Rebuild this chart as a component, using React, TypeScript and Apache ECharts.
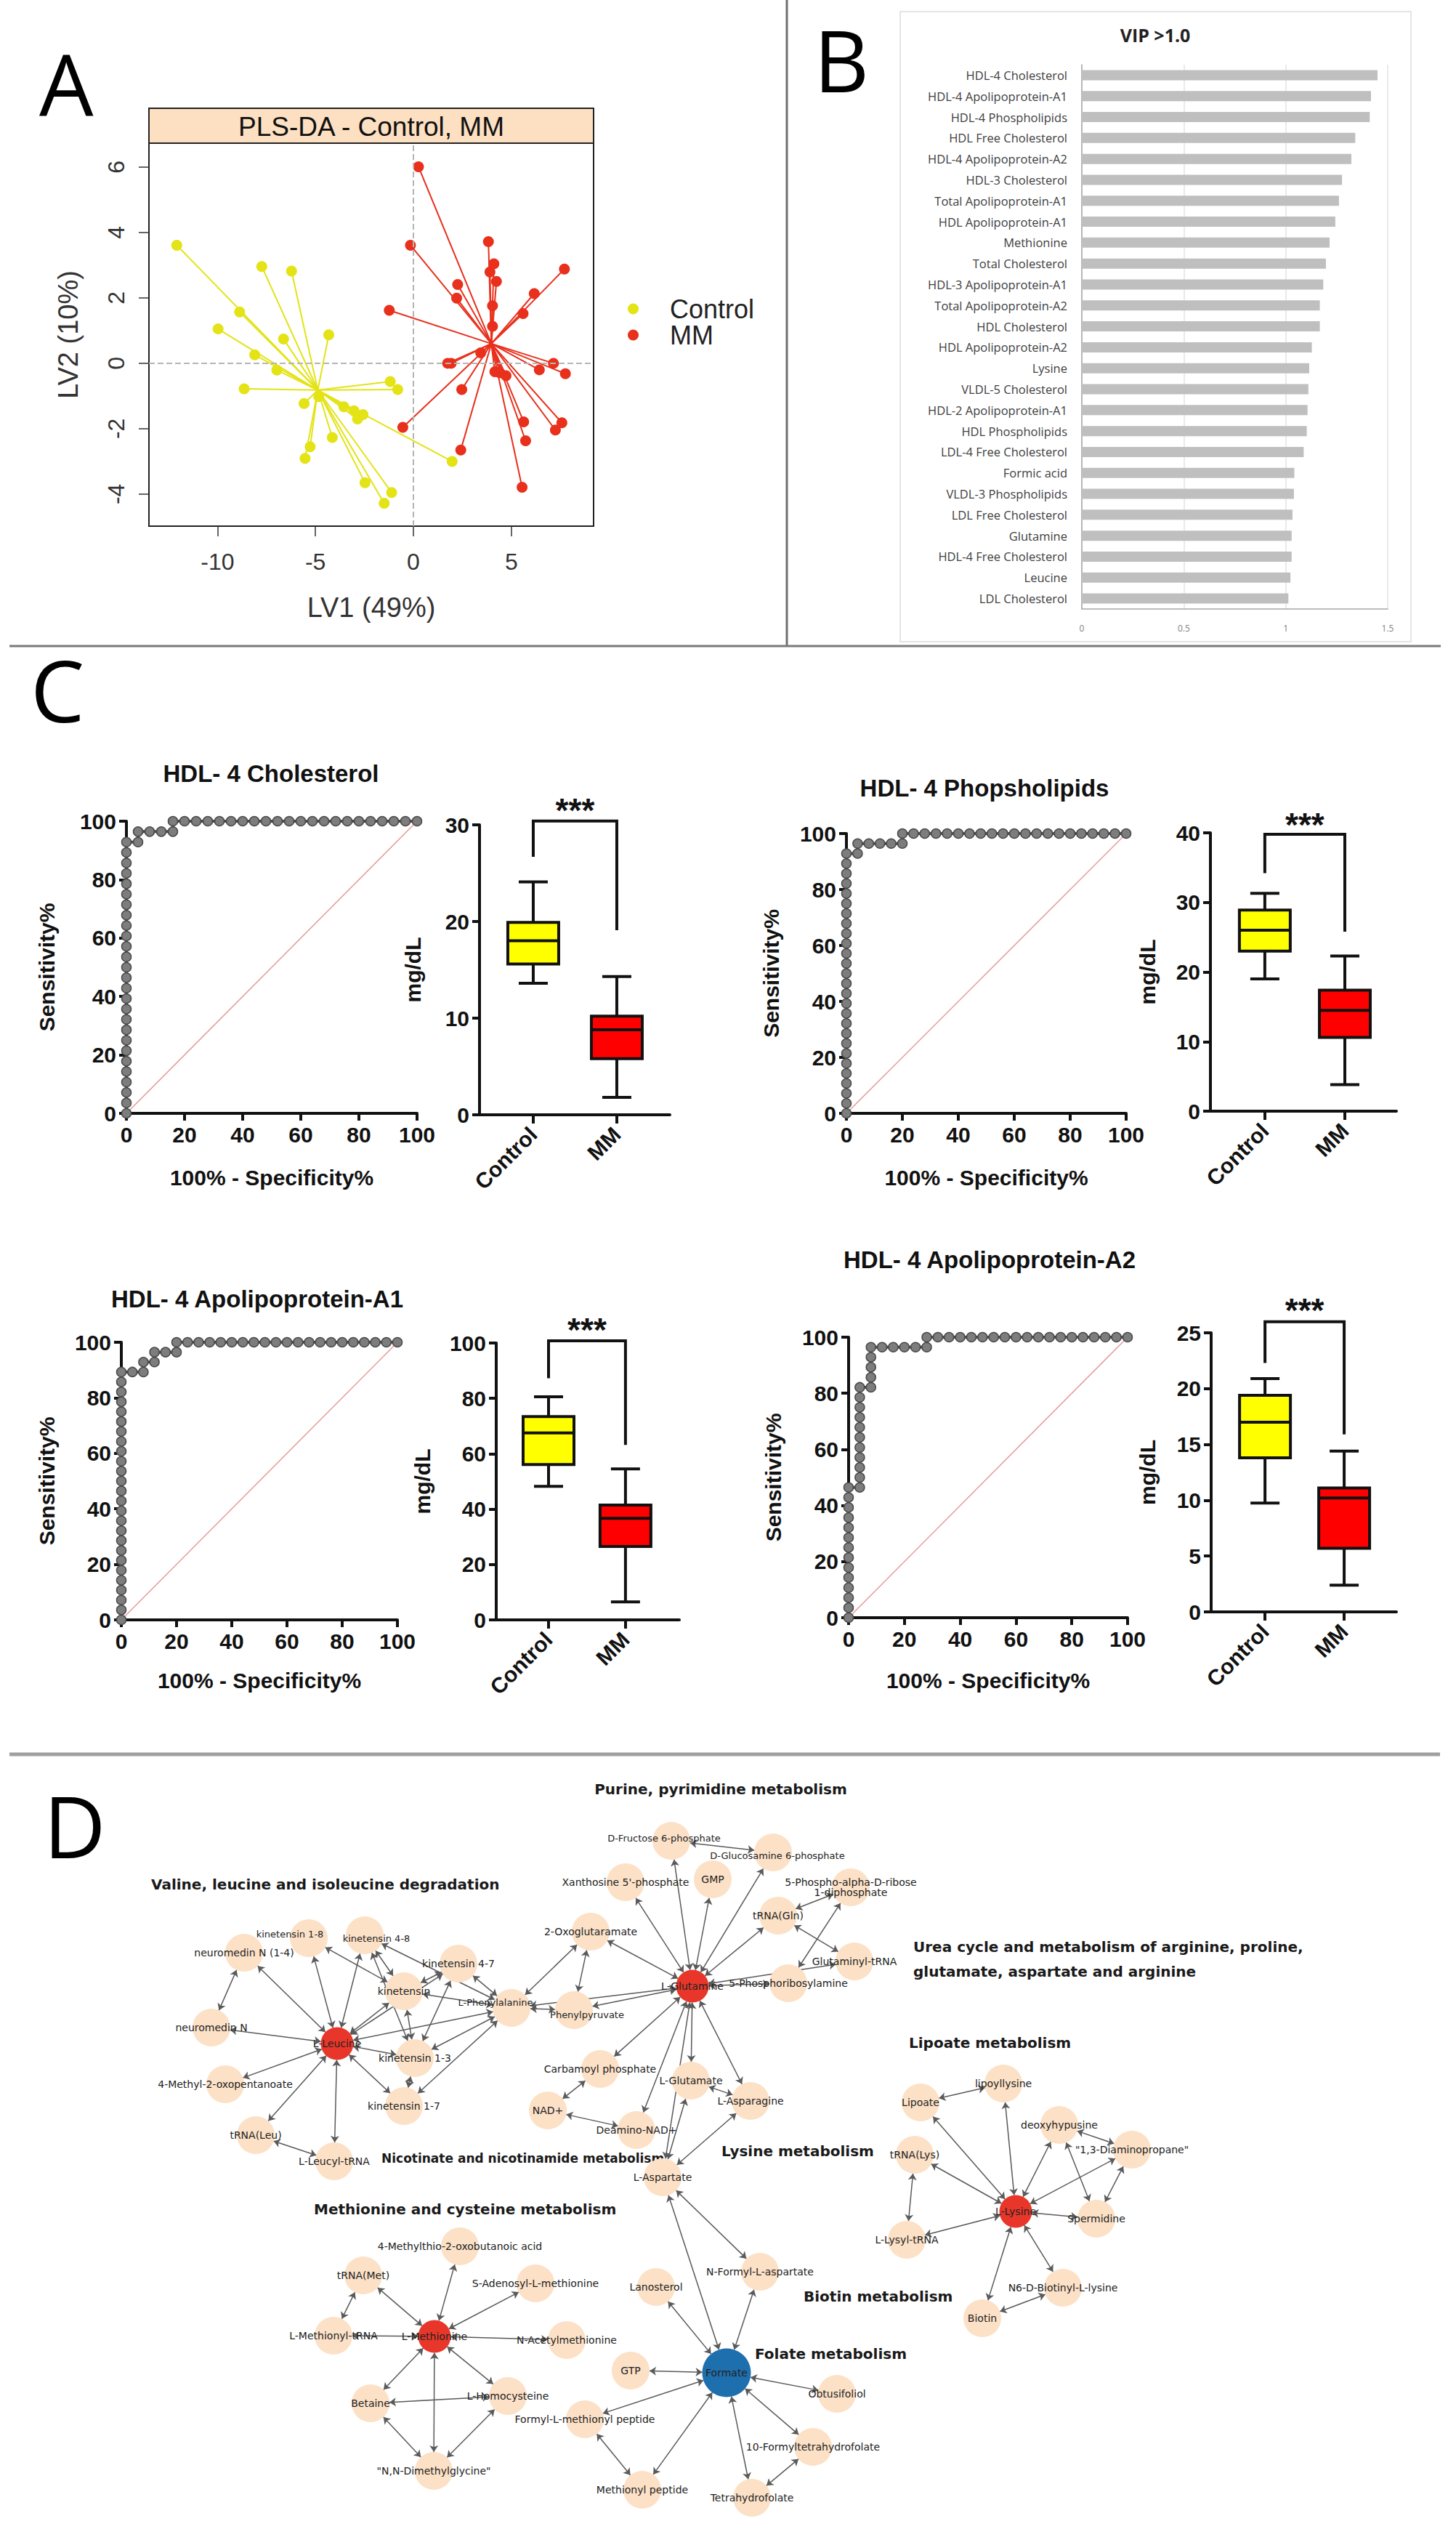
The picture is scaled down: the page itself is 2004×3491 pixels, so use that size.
import React, { useEffect, useRef } from "react";
import * as echarts from "echarts";

const W = 2004;
const H = 3491;
const SANS = "Liberation Sans";
const YELLOW = "#E3E316";
const RED = "#E8301C";

// ---------------- Panel A : PLS-DA scores ----------------
const A_GROUPS = ["Control", "MM"];
const A_CONTROL_LV1 = [-12.08, -7.74, -6.22, -8.87, -9.97, -6.63, -4.32, -8.1, -6.97, -8.64, -1.18, -0.8, -5.58, -4.83, -3.55, -3.03, -2.57, -2.85, -4.14, -5.27, -5.53, 1.98, -2.47, -1.11, -1.49];
const A_CONTROL_LV2 = [3.61, 2.96, 2.82, 1.57, 1.05, 0.74, 0.87, 0.26, -0.21, -0.78, -0.56, -0.8, -1.23, -1.02, -1.33, -1.45, -1.57, -1.7, -2.27, -2.55, -2.91, -3.0, -3.65, -3.95, -4.28];
const A_MM_LV1 = [0.26, -0.15, 3.83, 4.11, 3.91, 4.24, 2.26, 2.21, 7.71, 6.17, 5.6, 4.04, 4.04, -1.23, 3.44, 1.75, 1.93, 7.15, 6.43, 7.76, 4.16, 4.42, 4.73, 2.47, -0.54, 5.63, 7.58, 7.25, 5.73, 2.42, 5.55];
const A_MM_LV2 = [6.01, 3.61, 3.72, 3.04, 2.79, 2.5, 2.41, 1.99, 2.88, 2.13, 1.52, 1.76, 1.13, 1.62, 0.32, 0.0, 0.0, 0.0, -0.2, -0.32, -0.26, -0.29, -0.38, -0.8, -1.96, -1.79, -1.82, -2.04, -2.37, -2.65, -3.79];
const A_CENTROIDS = [[-4.88, -0.82], [3.98, 0.6]];
const A_X_TICKS = [-10, -5, 0, 5];
const A_Y_TICKS = [-4, -2, 0, 2, 4, 6];

// ---------------- Panel B : VIP scores ----------------
const VIP_NAMES = [
  "HDL-4 Cholesterol", "HDL-4 Apolipoprotein-A1", "HDL-4 Phospholipids", "HDL Free Cholesterol",
  "HDL-4 Apolipoprotein-A2", "HDL-3 Cholesterol", "Total Apolipoprotein-A1", "HDL Apolipoprotein-A1",
  "Methionine", "Total Cholesterol", "HDL-3 Apolipoprotein-A1", "Total Apolipoprotein-A2",
  "HDL Cholesterol", "HDL Apolipoprotein-A2", "Lysine", "VLDL-5 Cholesterol",
  "HDL-2 Apolipoprotein-A1", "HDL Phospholipids", "LDL-4 Free Cholesterol", "Formic acid",
  "VLDL-3 Phospholipids", "LDL Free Cholesterol", "Glutamine", "HDL-4 Free Cholesterol",
  "Leucine", "LDL Cholesterol",
];
const VIP_VALUES = [1.45, 1.418, 1.412, 1.341, 1.322, 1.276, 1.261, 1.243, 1.215, 1.197, 1.184, 1.167, 1.167, 1.128, 1.115, 1.111, 1.107, 1.103, 1.088, 1.042, 1.04, 1.033, 1.029, 1.029, 1.023, 1.013];

// ---------------- Panel C : ROC + box plots ----------------
const C_GROUPS = ["Control", "MM"];
const C_BOX_COLORS = ["#FFFF00", "#FF0000"];
const C_TITLES = ["HDL- 4 Cholesterol", "HDL- 4 Phopsholipids", "HDL- 4 Apolipoprotein-A1", "HDL- 4 Apolipoprotein-A2"];
const ROC_HDL4_CHOL = [
  [0, 0], [0, 3.57], [0, 7.14], [0, 10.71], [0, 14.29], [0, 17.86], [0, 21.43], [0, 25], [0, 28.57], [0, 32.14], [0, 35.71], [0, 39.29], [0, 42.86], [0, 46.43], [0, 50], [0, 53.57], [0, 57.14], [0, 60.71], [0, 64.29], [0, 67.86], [0, 71.43], [0, 75], [0, 78.57], [0, 82.14], [0, 85.71], [0, 89.29], [0, 92.86],
  [4, 92.86], [4, 96.43], [8, 96.43], [12, 96.43], [16, 96.43], [16, 100], [20, 100], [24, 100], [28, 100], [32, 100], [36, 100], [40, 100], [44, 100], [48, 100], [52, 100], [56, 100], [60, 100], [64, 100], [68, 100], [72, 100], [76, 100], [80, 100], [84, 100], [88, 100], [92, 100], [96, 100], [100, 100],
];
const ROC_HDL4_PL = [
  [0, 0], [0, 3.57], [0, 7.14], [0, 10.71], [0, 14.29], [0, 17.86], [0, 21.43], [0, 25], [0, 28.57], [0, 32.14], [0, 35.71], [0, 39.29], [0, 42.86], [0, 46.43], [0, 50], [0, 53.57], [0, 57.14], [0, 60.71], [0, 64.29], [0, 67.86], [0, 71.43], [0, 75], [0, 78.57], [0, 82.14], [0, 85.71], [0, 89.29], [0, 92.86],
  [4, 92.86], [4, 96.43], [8, 96.43], [12, 96.43], [16, 96.43], [20, 96.43], [20, 100], [24, 100], [28, 100], [32, 100], [36, 100], [40, 100], [44, 100], [48, 100], [52, 100], [56, 100], [60, 100], [64, 100], [68, 100], [72, 100], [76, 100], [80, 100], [84, 100], [88, 100], [92, 100], [96, 100], [100, 100],
];
const ROC_HDL4_A1 = [
  [0, 0], [0, 3.57], [0, 7.14], [0, 10.71], [0, 14.29], [0, 17.86], [0, 21.43], [0, 25], [0, 28.57], [0, 32.14], [0, 35.71], [0, 39.29], [0, 42.86], [0, 46.43], [0, 50], [0, 53.57], [0, 57.14], [0, 60.71], [0, 64.29], [0, 67.86], [0, 71.43], [0, 75], [0, 78.57], [0, 82.14], [0, 85.71], [0, 89.29],
  [4, 89.29], [8, 89.29], [8, 92.86], [12, 92.86], [12, 96.43], [16, 96.43], [20, 96.43], [20, 100], [24, 100], [28, 100], [32, 100], [36, 100], [40, 100], [44, 100], [48, 100], [52, 100], [56, 100], [60, 100], [64, 100], [68, 100], [72, 100], [76, 100], [80, 100], [84, 100], [88, 100], [92, 100], [96, 100], [100, 100],
];
const ROC_HDL4_A2 = [
  [0, 0], [0, 3.57], [0, 7.14], [0, 10.71], [0, 14.29], [0, 17.86], [0, 21.43], [0, 25], [0, 28.57], [0, 32.14], [0, 35.71], [0, 39.29], [0, 42.86], [0, 46.43],
  [4, 46.43], [4, 50], [4, 53.57], [4, 57.14], [4, 60.71], [4, 64.29], [4, 67.86], [4, 71.43], [4, 75], [4, 78.57], [4, 82.14],
  [8, 82.14], [8, 85.71], [8, 89.29], [8, 92.86], [8, 96.43], [12, 96.43], [16, 96.43], [20, 96.43], [24, 96.43], [28, 96.43],
  [28, 100], [32, 100], [36, 100], [40, 100], [44, 100], [48, 100], [52, 100], [56, 100], [60, 100], [64, 100], [68, 100], [72, 100], [76, 100], [80, 100], [84, 100], [88, 100], [92, 100], [96, 100], [100, 100],
];
const C_ROC = [ROC_HDL4_CHOL, ROC_HDL4_PL, ROC_HDL4_A1, ROC_HDL4_A2];
// [min, Q1, median, Q3, max] for Control then MM
const C_BOX_STATS = [
  [[13.6, 15.6, 18.0, 19.9, 24.1], [1.8, 5.8, 8.8, 10.2, 14.3]],
  [[19.0, 23.0, 26.0, 28.9, 31.3], [3.8, 10.6, 14.5, 17.4, 22.3]],
  [[48.2, 56.1, 67.5, 73.4, 80.6], [6.5, 26.5, 36.7, 41.5, 54.5]],
  [[9.75, 13.8, 17.0, 19.4, 20.9], [2.4, 5.7, 10.2, 11.1, 14.4]],
];
const C_BOX_YMAX = [30, 40, 100, 25];
const C_BOX_YSTEP = [10, 10, 20, 5];
// [left leg end, bracket top, right leg end, star position]
const C_BRACKETS = [
  [26.7, 30.4, 19.1, 31.5],
  [34.2, 39.8, 25.8, 41.1],
  [87.3, 100.8, 63.2, 104.7],
  [22.3, 26.0, 15.9, 27.0],
];
const C_SIG = ["***", "***", "***", "***"];
const ROC_TICKS_MAX = 100;

// ---------------- Panel D : network ----------------
const D_NODE_NAMES = [
  "neuromedin N (1-4)", "kinetensin 1-8", "kinetensin 4-8", "kinetensin 4-7", "kinetensin", "L-Phenylalanine", "neuromedin N", "L-Leucine", "kinetensin 1-3", "4-Methyl-2-oxopentanoate", "kinetensin 1-7", "tRNA(Leu)", "L-Leucyl-tRNA",
  "D-Fructose 6-phosphate", "D-Glucosamine 6-phosphate", "Xanthosine 5'-phosphate", "GMP", "5-Phospho-alpha-D-ribose 1-diphosphate", "tRNA(Gln)", "2-Oxoglutaramate", "Glutaminyl-tRNA", "L-Glutamine", "5-Phosphoribosylamine", "Phenylpyruvate", "Carbamoyl phosphate", "L-Glutamate", "L-Asparagine", "NAD+", "Deamino-NAD+", "L-Aspartate",
  "Lanosterol", "N-Formyl-L-aspartate", "Formate", "GTP", "Obtusifoliol", "Formyl-L-methionyl peptide", "10-Formyltetrahydrofolate", "Methionyl peptide", "Tetrahydrofolate",
  "4-Methylthio-2-oxobutanoic acid", "tRNA(Met)", "S-Adenosyl-L-methionine", "L-Methionine", "L-Methionyl-tRNA", "N-Acetylmethionine", "Betaine", "L-Homocysteine", "\"N,N-Dimethylglycine\"",
  "Lipoate", "lipoyllysine", "deoxyhypusine", "\"1,3-Diaminopropane\"", "tRNA(Lys)", "L-Lysine", "Spermidine", "L-Lysyl-tRNA", "N6-D-Biotinyl-L-lysine", "Biotin",
];
const D_NODE_LABELS = D_NODE_NAMES.map((n) => (n === "5-Phospho-alpha-D-ribose 1-diphosphate" ? "5-Phospho-alpha-D-ribose\n1-diphosphate" : n));
const D_NODE_X = [
  336, 425, 502, 631, 556, 704, 291, 464, 571, 310, 556, 352, 460,
  924, 1064, 861, 981, 1171, 1071, 813, 1176, 953, 1085, 790, 826, 951, 1033, 754, 876, 912,
  903, 1046, 1000, 868, 1152, 805, 1119, 884, 1035,
  633, 500, 737, 598, 459, 780, 510, 699, 597,
  1267, 1381, 1458, 1558, 1259, 1398, 1509, 1248, 1463, 1352,
];
const D_NODE_Y = [
  2687, 2667, 2663, 2702, 2740, 2763, 2790, 2812, 2832, 2868, 2898, 2938, 2974,
  2533, 2549, 2590, 2586, 2597, 2636, 2658, 2699, 2733, 2729, 2766, 2847, 2863, 2891, 2904, 2931, 2996,
  3147, 3126, 3265, 3262, 3294, 3329, 3367, 3426, 3437,
  3091, 3131, 3142, 3215, 3214, 3220, 3307, 3297, 3400,
  2893, 2867, 2924, 2958, 2965, 3043, 3053, 3082, 3148, 3190,
];
// 0 = metabolite, 1 = altered (red), 2 = formate (blue)
const D_NODE_KIND = D_NODE_NAMES.map((n) =>
  n === "Formate" ? 2 : ["L-Leucine", "L-Glutamine", "L-Methionine", "L-Lysine"].indexOf(n) >= 0 ? 1 : 0
);
const D_EDGES = [
  ["L-Leucine", "neuromedin N (1-4)"], ["L-Leucine", "kinetensin 1-8"], ["L-Leucine", "kinetensin 4-8"], ["L-Leucine", "kinetensin"], ["L-Leucine", "kinetensin 4-7"], ["L-Leucine", "L-Phenylalanine"], ["L-Leucine", "neuromedin N"], ["L-Leucine", "kinetensin 1-3"], ["L-Leucine", "4-Methyl-2-oxopentanoate"], ["L-Leucine", "tRNA(Leu)"], ["L-Leucine", "L-Leucyl-tRNA"], ["L-Leucine", "kinetensin 1-7"],
  ["neuromedin N (1-4)", "neuromedin N"], ["kinetensin 1-8", "kinetensin"], ["kinetensin 4-8", "kinetensin"], ["kinetensin 4-8", "kinetensin 1-3"], ["kinetensin", "kinetensin 4-7"], ["kinetensin", "L-Phenylalanine"], ["kinetensin", "kinetensin 1-3"], ["kinetensin 4-7", "L-Phenylalanine"], ["kinetensin 4-7", "kinetensin 1-3"], ["kinetensin 1-3", "L-Phenylalanine"], ["kinetensin 1-7", "L-Phenylalanine"], ["kinetensin 1-7", "kinetensin 1-3"], ["tRNA(Leu)", "L-Leucyl-tRNA"], ["L-Phenylalanine", "2-Oxoglutaramate"], ["L-Phenylalanine", "Phenylpyruvate"], ["kinetensin 4-8", "L-Phenylalanine"],
  ["L-Glutamine", "D-Fructose 6-phosphate"], ["L-Glutamine", "Xanthosine 5'-phosphate"], ["L-Glutamine", "GMP"], ["L-Glutamine", "D-Glucosamine 6-phosphate"], ["L-Glutamine", "tRNA(Gln)"], ["L-Glutamine", "5-Phosphoribosylamine"], ["L-Glutamine", "Glutaminyl-tRNA"], ["L-Glutamine", "2-Oxoglutaramate"], ["L-Glutamine", "Phenylpyruvate"], ["L-Glutamine", "L-Phenylalanine"], ["L-Glutamine", "Carbamoyl phosphate"], ["L-Glutamine", "L-Glutamate"], ["L-Glutamine", "L-Asparagine"], ["L-Glutamine", "Deamino-NAD+"], ["L-Glutamine", "L-Aspartate"],
  ["D-Fructose 6-phosphate", "D-Glucosamine 6-phosphate"], ["5-Phospho-alpha-D-ribose 1-diphosphate", "tRNA(Gln)"], ["5-Phospho-alpha-D-ribose 1-diphosphate", "5-Phosphoribosylamine"], ["tRNA(Gln)", "Glutaminyl-tRNA"], ["2-Oxoglutaramate", "Phenylpyruvate"], ["Carbamoyl phosphate", "NAD+"], ["NAD+", "Deamino-NAD+"], ["L-Glutamate", "L-Asparagine"], ["L-Glutamate", "L-Aspartate"], ["L-Asparagine", "L-Aspartate"],
  ["Formate", "L-Aspartate"], ["Formate", "N-Formyl-L-aspartate"], ["Formate", "Lanosterol"], ["Formate", "GTP"], ["Formate", "Obtusifoliol"], ["Formate", "10-Formyltetrahydrofolate"], ["Formate", "Tetrahydrofolate"], ["Formate", "Methionyl peptide"], ["Formate", "Formyl-L-methionyl peptide"], ["L-Aspartate", "N-Formyl-L-aspartate"], ["Formyl-L-methionyl peptide", "Methionyl peptide"], ["Tetrahydrofolate", "10-Formyltetrahydrofolate"],
  ["L-Methionine", "4-Methylthio-2-oxobutanoic acid"], ["L-Methionine", "tRNA(Met)"], ["L-Methionine", "S-Adenosyl-L-methionine"], ["L-Methionine", "L-Methionyl-tRNA"], ["L-Methionine", "N-Acetylmethionine"], ["L-Methionine", "Betaine"], ["L-Methionine", "L-Homocysteine"], ["L-Methionine", "\"N,N-Dimethylglycine\""], ["tRNA(Met)", "L-Methionyl-tRNA"], ["Betaine", "L-Homocysteine"], ["Betaine", "\"N,N-Dimethylglycine\""], ["L-Homocysteine", "\"N,N-Dimethylglycine\""],
  ["L-Lysine", "Lipoate"], ["L-Lysine", "lipoyllysine"], ["L-Lysine", "deoxyhypusine"], ["L-Lysine", "\"1,3-Diaminopropane\""], ["L-Lysine", "tRNA(Lys)"], ["L-Lysine", "Spermidine"], ["L-Lysine", "L-Lysyl-tRNA"], ["L-Lysine", "N6-D-Biotinyl-L-lysine"], ["L-Lysine", "Biotin"], ["Lipoate", "lipoyllysine"], ["deoxyhypusine", "\"1,3-Diaminopropane\""], ["\"1,3-Diaminopropane\"", "Spermidine"], ["tRNA(Lys)", "L-Lysyl-tRNA"], ["Biotin", "N6-D-Biotinyl-L-lysine"], ["deoxyhypusine", "Spermidine"],
];
const D_TITLES = [
  "Purine, pyrimidine metabolism",
  "Valine, leucine and isoleucine degradation",
  "Urea cycle and metabolism of arginine, proline,",
  "glutamate, aspartate and arginine",
  "Lipoate metabolism",
  "Nicotinate and nicotinamide metabolism",
  "Lysine metabolism",
  "Methionine and cysteine metabolism",
  "Biotin metabolism",
  "Folate metabolism",
];

// ---------------- Layout (positions only) ----------------
const C_LAYOUT = [
  { roc: { left: 174, top: 1130, width: 400, height: 402 }, box: { left: 660, top: 1135, width: 262, height: 399 }, boxX: [-0.643, 1.635], title: [373, 1064], rocYGap: 95, rocXGap: 73, boxYGap: 77 },
  { roc: { left: 1165, top: 1147, width: 385, height: 385 }, box: { left: 1666, top: 1146, width: 256, height: 383 }, boxX: [-0.68, 1.645], title: [1355, 1084], rocYGap: 89, rocXGap: 73, boxYGap: 72 },
  { roc: { left: 167, top: 1847, width: 380, height: 382 }, box: { left: 683, top: 1848, width: 252, height: 381 }, boxX: [-0.68, 1.7], title: [354, 1787], rocYGap: 88, rocXGap: 68, boxYGap: 87 },
  { roc: { left: 1168, top: 1840, width: 384, height: 386 }, box: { left: 1667, top: 1834, width: 255, height: 384 }, boxX: [-0.68, 1.66], title: [1362, 1733], rocYGap: 89, rocXGap: 71, boxYGap: 73 },
];
const D_TITLE_POS = [
  [992, 2462, "center", 20], [208, 2593, "left", 20], [1257, 2679, "left", 20], [1257, 2713, "left", 20],
  [1251, 2811, "left", 20], [525, 2970, "left", 17], [993, 2960, "left", 20], [432, 3040, "left", 20],
  [1106, 3160, "left", 20], [1039, 3239, "left", 20],
];
// small label nudges where neighbouring node labels would collide
const D_LABEL_OFFSETS: any = {
  "kinetensin 1-8": [-26, -6],
  "kinetensin 4-8": [16, 4],
  "L-Phenylalanine": [-22, -8],
  "Phenylpyruvate": [18, 6],
  "D-Fructose 6-phosphate": [-10, -4],
  "D-Glucosamine 6-phosphate": [6, 4],
};

function txt(text: string, x: number, y: number, font: string, align = "left", fill = "#111") {
  return { type: "text", x, y, silent: true, style: { text, font, fill, textAlign: align, textVerticalAlign: "middle" } };
}

function buildOption() {
  const grid: any[] = [];
  const xAxis: any[] = [];
  const yAxis: any[] = [];
  const series: any[] = [];
  const graphic: any[] = [];

  // ===== Panel A =====
  grid.push({ left: 205, top: 197, width: 612, height: 527, show: true, borderColor: "#222", borderWidth: 2, backgroundColor: "transparent" });
  const aTick = { show: true, length: 14, lineStyle: { color: "#333", width: 1.5 } };
  xAxis.push({
    gridIndex: 0, type: "value", min: -13.5, max: 9.2,
    axisLine: { show: false, onZero: false },
    axisTick: { ...aTick, customValues: A_X_TICKS },
    axisLabel: { customValues: A_X_TICKS, fontSize: 32, color: "#333", margin: 33, fontFamily: SANS },
    splitLine: { show: false },
    name: "LV1 (49%)", nameLocation: "middle", nameGap: 93,
    nameTextStyle: { fontSize: 38, color: "#333", fontFamily: SANS },
  });
  yAxis.push({
    gridIndex: 0, type: "value", min: -4.98, max: 6.73,
    axisLine: { show: false, onZero: false },
    axisTick: { ...aTick, customValues: A_Y_TICKS },
    axisLabel: { customValues: A_Y_TICKS, rotate: 90, fontSize: 32, color: "#333", margin: 29, fontFamily: SANS },
    splitLine: { show: false },
    name: "LV2 (10%)", nameLocation: "middle", nameGap: 92,
    nameTextStyle: { fontSize: 38, color: "#333", fontFamily: SANS },
  });
  const aSets = [
    { xs: A_CONTROL_LV1, ys: A_CONTROL_LV2, color: YELLOW },
    { xs: A_MM_LV1, ys: A_MM_LV2, color: RED },
  ];
  aSets.forEach((s, gi) => {
    series.push({
      type: "lines", name: A_GROUPS[gi] + " links", coordinateSystem: "cartesian2d", xAxisIndex: 0, yAxisIndex: 0,
      silent: true, z: 2,
      lineStyle: { color: s.color, width: 2, opacity: 1 },
      data: s.xs.map((x, i) => ({ coords: [A_CENTROIDS[gi], [x, s.ys[i]]] })),
    });
  });
  aSets.forEach((s, gi) => {
    series.push({
      type: "scatter", name: A_GROUPS[gi], xAxisIndex: 0, yAxisIndex: 0, z: 3,
      symbolSize: 15, itemStyle: { color: s.color, opacity: 1 },
      data: s.xs.map((x, i) => [x, s.ys[i]]),
      markLine: gi === 0 ? {
        silent: true, symbol: ["none", "none"], label: { show: false },
        lineStyle: { type: "dashed", color: "#b5b5b5", width: 2 },
        data: [{ xAxis: 0 }, { yAxis: 0 }],
      } : undefined,
    });
  });
  graphic.push({ type: "rect", shape: { x: 205, y: 149, width: 612, height: 48 }, style: { fill: "#FDE0C2", stroke: "#222", lineWidth: 2 }, silent: true });
  graphic.push(txt("PLS-DA - Control, MM", 511, 174, `37px ${SANS}`, "center", "#111"));

  // ===== Panel B =====
  grid.push({ left: 1489, top: 89, width: 421, height: 749 });
  xAxis.push({
    gridIndex: 1, type: "value", min: 0, max: 1.5, interval: 0.5,
    axisLine: { show: true, onZero: false, lineStyle: { color: "#a6a6a6", width: 1.5 } },
    axisTick: { show: false },
    axisLabel: { fontSize: 12, color: "#808080", margin: 20, fontFamily: "Open Sans" },
    splitLine: { show: true, lineStyle: { color: "#e3e3e3", width: 1.5 } },
  });
  yAxis.push({
    gridIndex: 1, type: "category", inverse: true, data: VIP_NAMES,
    axisLine: { show: true, onZero: false, lineStyle: { color: "#a6a6a6", width: 1.5 } },
    axisTick: { show: false },
    axisLabel: { fontSize: 16.5, color: "#404040", margin: 20, fontFamily: "Open Sans" },
  });
  series.push({
    type: "bar", name: "VIP", xAxisIndex: 1, yAxisIndex: 1, data: VIP_VALUES,
    barWidth: 14, itemStyle: { color: "#BFBFBF" }, silent: true,
  });
  graphic.push({ type: "rect", shape: { x: 1239, y: 16, width: 703, height: 867 }, style: { fill: "none", stroke: "#dcdcdc", lineWidth: 1.5 }, silent: true });
  graphic.push(txt("VIP >1.0", 1590, 48, `bold 25px Open Sans`, "center", "#222"));

  // ===== Panel C =====
  const bold30 = { fontSize: 30, fontWeight: "bold", color: "#111", fontFamily: SANS };
  C_LAYOUT.forEach((L, k) => {
    const rocIdx = grid.length;
    grid.push({ ...L.roc });
    xAxis.push({
      gridIndex: rocIdx, type: "value", min: 0, max: ROC_TICKS_MAX, interval: 20,
      axisLine: { show: true, onZero: false, lineStyle: { color: "#111", width: 4 } },
      axisTick: { show: true, length: 10, lineStyle: { color: "#111", width: 4 } },
      axisLabel: { ...bold30, margin: 14 },
      splitLine: { show: false },
      name: "100% - Specificity%", nameLocation: "middle", nameGap: L.rocXGap, nameTextStyle: bold30,
    });
    yAxis.push({
      gridIndex: rocIdx, type: "value", min: 0, max: ROC_TICKS_MAX, interval: 20,
      axisLine: { show: true, onZero: false, lineStyle: { color: "#111", width: 4 } },
      axisTick: { show: true, length: 10, lineStyle: { color: "#111", width: 4 } },
      axisLabel: { ...bold30, margin: 14 },
      splitLine: { show: false },
      name: "Sensitivity%", nameLocation: "middle", nameGap: L.rocYGap, nameTextStyle: bold30,
    });
    series.push({
      type: "line", name: "Reference", xAxisIndex: rocIdx, yAxisIndex: rocIdx, data: [[0, 0], [100, 100]],
      symbol: "none", lineStyle: { color: "#E79A9A", width: 1.5 }, silent: true, z: 2,
    });
    series.push({
      type: "line", name: "ROC", xAxisIndex: rocIdx, yAxisIndex: rocIdx, data: C_ROC[k],
      symbol: "circle", symbolSize: 13, clip: false,
      lineStyle: { color: "#4a4a4a", width: 4 },
      itemStyle: { color: "#7d7d7d", borderColor: "#4a4a4a", borderWidth: 1.5 }, silent: true, z: 3,
    });

    const boxIdx = grid.length;
    grid.push({ ...L.box });
    xAxis.push({
      gridIndex: boxIdx, type: "value", min: L.boxX[0], max: L.boxX[1],
      axisLine: { show: true, onZero: false, lineStyle: { color: "#111", width: 4 } },
      axisTick: { show: true, length: 12, customValues: [0, 1], lineStyle: { color: "#111", width: 4 } },
      axisLabel: { ...bold30, customValues: [0, 1], rotate: 45, margin: 22, formatter: (v: number) => C_GROUPS[Math.round(v)] },
      splitLine: { show: false },
    });
    yAxis.push({
      gridIndex: boxIdx, type: "value", min: 0, max: C_BOX_YMAX[k], interval: C_BOX_YSTEP[k],
      axisLine: { show: true, onZero: false, lineStyle: { color: "#111", width: 4 } },
      axisTick: { show: true, length: 10, lineStyle: { color: "#111", width: 4 } },
      axisLabel: { ...bold30, margin: 14 },
      splitLine: { show: false },
      name: "mg/dL", nameLocation: "middle", nameGap: L.boxYGap, nameTextStyle: bold30,
    });
    series.push({
      type: "custom", name: "Box " + C_TITLES[k], xAxisIndex: boxIdx, yAxisIndex: boxIdx, clip: false, silent: true, z: 3,
      data: C_BOX_STATS[k].map((s, gi) => [gi, ...s]),
      encode: { x: 0, y: [1, 2, 3, 4, 5] },
      renderItem: (params: any, api: any) => {
        const g = api.value(0);
        const lo = api.coord([g, api.value(1)]);
        const q1 = api.coord([g, api.value(2)]);
        const md = api.coord([g, api.value(3)]);
        const q3 = api.coord([g, api.value(4)]);
        const hi = api.coord([g, api.value(5)]);
        const cx = md[0];
        const bw = 70;
        const cw = 40;
        const st = { stroke: "#111", lineWidth: 4, fill: "none" };
        return {
          type: "group",
          children: [
            { type: "line", shape: { x1: cx, y1: hi[1], x2: cx, y2: q3[1] }, style: st },
            { type: "line", shape: { x1: cx, y1: q1[1], x2: cx, y2: lo[1] }, style: st },
            { type: "line", shape: { x1: cx - cw / 2, y1: hi[1], x2: cx + cw / 2, y2: hi[1] }, style: st },
            { type: "line", shape: { x1: cx - cw / 2, y1: lo[1], x2: cx + cw / 2, y2: lo[1] }, style: st },
            { type: "rect", shape: { x: cx - bw / 2, y: q3[1], width: bw, height: q1[1] - q3[1] }, style: { fill: C_BOX_COLORS[g], stroke: "#111", lineWidth: 4 } },
            { type: "line", shape: { x1: cx - bw / 2, y1: md[1], x2: cx + bw / 2, y2: md[1] }, style: st },
          ],
        };
      },
    });
    series.push({
      type: "custom", name: "Significance " + C_TITLES[k], xAxisIndex: boxIdx, yAxisIndex: boxIdx, clip: false, silent: true, z: 4,
      data: [[0, ...C_BRACKETS[k]]],
      encode: { x: 0, y: [1, 2, 3, 4] },
      renderItem: (params: any, api: any) => {
        const la = api.coord([0, api.value(1)]);
        const a = api.coord([0, api.value(2)]);
        const b = api.coord([1, api.value(2)]);
        const lb = api.coord([1, api.value(3)]);
        const s0 = api.coord([0, api.value(4)]);
        const s1 = api.coord([1, api.value(4)]);
        return {
          type: "group",
          children: [
            { type: "polyline", shape: { points: [[la[0], la[1]], [a[0], a[1]], [b[0], b[1]], [lb[0], lb[1]]] }, style: { stroke: "#111", lineWidth: 4, fill: "none" } },
            { type: "text", x: (s0[0] + s1[0]) / 2, y: s0[1], style: { text: C_SIG[k], fill: "#111", font: `bold 46px ${SANS}`, textAlign: "center", textVerticalAlign: "middle" } },
          ],
        };
      },
    });
    graphic.push(txt(C_TITLES[k], L.title[0], L.title[1], `bold 33px ${SANS}`, "center", "#111"));
  });

  // ===== Panel D =====
  const dIdx = grid.length;
  grid.push({ left: 0, top: 0, width: W, height: H });
  xAxis.push({ gridIndex: dIdx, type: "value", min: 0, max: W, show: false });
  yAxis.push({ gridIndex: dIdx, type: "value", min: 0, max: H, inverse: true, show: false });
  const kindColor = ["#FCE1C7", "#E8372A", "#1E6FAE"];
  const kindSize = [52, 45, 67];
  series.push({
    type: "graph", name: "Network", coordinateSystem: "cartesian2d", xAxisIndex: dIdx, yAxisIndex: dIdx,
    silent: true, z: 2,
    edgeSymbol: ["arrow", "arrow"], edgeSymbolSize: 9,
    lineStyle: { color: "#5a5a5a", width: 1.5, opacity: 1, curveness: 0 },
    label: { show: true, position: "inside", fontSize: 14, color: "#222", fontFamily: "DejaVu Sans" },
    data: D_NODE_NAMES.map((n, i) => ({
      name: n,
      value: [D_NODE_X[i], D_NODE_Y[i]],
      symbolSize: kindSize[D_NODE_KIND[i]],
      itemStyle: { color: kindColor[D_NODE_KIND[i]] },
      label: { formatter: D_NODE_LABELS[i], offset: D_LABEL_OFFSETS[n] || [0, 0], fontSize: D_LABEL_OFFSETS[n] ? 13 : 14 },
    })),
    links: D_EDGES.map(([s, t]) => ({ source: s, target: t })),
  });
  D_TITLES.forEach((t, i) => {
    const p = D_TITLE_POS[i] as any[];
    graphic.push(txt(t, p[0], p[1], `bold ${p[3]}px DejaVu Sans`, p[2], "#1a1a1a"));
  });

  // ===== Panel letters and dividers =====
  graphic.push(txt("A", 54, 114, `118px Open Sans`, "left", "#000"));
  graphic.push(txt("B", 1120, 81, `118px Open Sans`, "left", "#000"));
  graphic.push(txt("C", 42, 948, `118px Open Sans`, "left", "#000"));
  graphic.push(txt("D", 60, 2511, `118px Open Sans`, "left", "#000"));
  graphic.push({ type: "line", shape: { x1: 1083, y1: 0, x2: 1083, y2: 889 }, style: { stroke: "#6e6e6e", lineWidth: 3 }, silent: true });
  graphic.push({ type: "line", shape: { x1: 13, y1: 889, x2: 1983, y2: 889 }, style: { stroke: "#7a7a7a", lineWidth: 3 }, silent: true });
  graphic.push({ type: "line", shape: { x1: 13, y1: 2414, x2: 1982, y2: 2414 }, style: { stroke: "#a0a0a0", lineWidth: 5 }, silent: true });

  return {
    animation: false,
    backgroundColor: "#ffffff",
    textStyle: { fontFamily: SANS },
    legend: {
      data: A_GROUPS, orient: "vertical", left: 859, top: 402, icon: "circle",
      itemWidth: 15, itemHeight: 15, itemGap: 0, selectedMode: false,
      textStyle: { fontSize: 36, color: "#222", fontFamily: SANS, lineHeight: 36, padding: [0, 0, 0, 38] },
    },
    grid,
    xAxis,
    yAxis,
    series,
    graphic,
  };
}

export default function App() {
  const ref = useRef<HTMLDivElement>(null);
  useEffect(() => {
    const chart = echarts.init(ref.current as HTMLDivElement, null, { renderer: "svg" });
    chart.setOption(buildOption() as any);
    return () => chart.dispose();
  }, []);
  return <div ref={ref} style={{ position: "absolute", left: 0, top: 0, width: W, height: H, background: "#fff" }} />;
}
